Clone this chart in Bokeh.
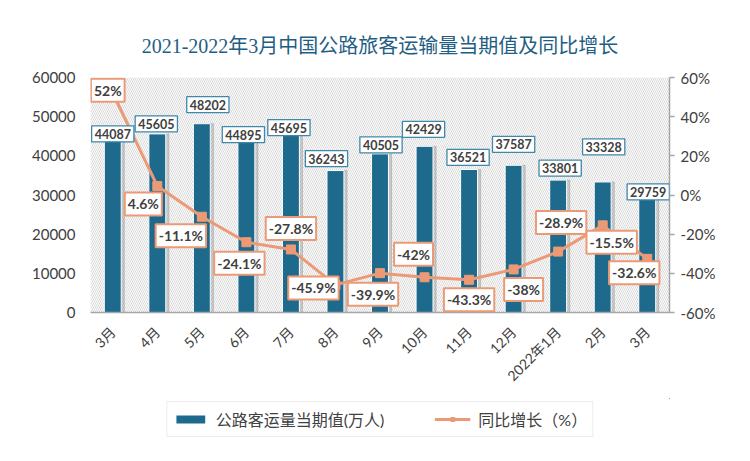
from bokeh.plotting import figure
from bokeh.layouts import column
from bokeh.models import (Range1d, LinearAxis, FixedTicker, PrintfTickFormatter,
                          Label, BoxAnnotation, Legend, LegendItem, ColumnDataSource)
from bokeh.embed import file_html
from bokeh.resources import INLINE
import math

# ---- data ----
months = ["3月", "4月", "5月", "6月", "7月", "8月", "9月", "10月", "11月", "12月",
          "2022年1月", "2月", "3月"]
passengers = [44087, 45605, 48202, 44895, 45695, 36243, 40505, 42429, 36521, 37587,
              33801, 33328, 29759]
growth = [52, 4.6, -11.1, -24.1, -27.8, -45.9, -39.9, -42, -43.3, -38, -28.9, -15.5, -32.6]

title_text = "2021-2022年3月中国公路旅客运输量当期值及同比增长"
bar_name = "公路客运量当期值(万人)"
line_name = "同比增长（%）"

# ---- label placement (screen px; +dx right, +dy down) ----
bar_lbl_dx = [0, -1, 6, -3, -2, -9, 1, -1, -1, 0, 2, 1, 1]
bar_lbl_dy = [-6, -10, -19, -2, -6, -12, -9, -17, -12, -21, -12, -35, -4]
line_lbl_dx = [-5, -14, -21, -7, 0, -22, -7, -11, 0, 10, 3, 9, -13]
line_lbl_dy = [-3, 18, 19, 21, -21, 3, 21, -23, 20, 20, -29, 17, 14]

BAR = "#1E6A8D"
LINE = "#EC9A76"
TXT = "#404040"
SANS = "Lato, 'Noto Sans CJK SC', sans-serif"

xs = list(range(len(months)))
src = ColumnDataSource(dict(x=xs, y=passengers, g=growth))

p = figure(width=742, height=398, output_backend="svg", toolbar_location=None,
           x_range=Range1d(-0.5, len(months) - 0.5), y_range=Range1d(0, 60000),
           min_border_left=90, min_border_right=73, min_border_top=77,
           min_border_bottom=86)
p.extra_y_ranges = {"pct": Range1d(-60, 60)}
p.outline_line_color = None
p.xgrid.visible = False
p.ygrid.visible = False
p.background_fill_color = "white"
p.border_fill_color = "white"

# title
p.title.text = title_text
p.title.align = "center"
p.title.text_font = "'Liberation Serif', 'Noto Sans CJK SC', serif"
p.title.text_font_size = "20px"
p.title.text_font_style = "normal"
p.title.text_color = "#1F5E84"
p.title.standoff = 42

# hatched plot area
p.add_layout(BoxAnnotation(fill_color="white", fill_alpha=0, line_color=None,
                           hatch_pattern="\\", hatch_color="#D9D9D9",
                           hatch_scale=4, hatch_weight=1, level="underlay"))

# bar shadows + bars
p.vbar(x=[x + 0.07 for x in xs], top=passengers, width=0.38, color="#9A9A9A",
       alpha=0.45)
bars = p.vbar(x="x", top="y", width=0.38, source=src, fill_color=BAR,
              line_color="white", line_width=1)

# line on right axis
ln = p.line(x="x", y="g", source=src, y_range_name="pct", line_color=LINE,
            line_width=3)
mk = p.scatter(x="x", y="g", source=src, y_range_name="pct", marker="square",
               size=9, fill_color=LINE, line_color=LINE)

# axes
p.yaxis.ticker = FixedTicker(ticks=[0, 10000, 20000, 30000, 40000, 50000, 60000])
p.yaxis.axis_line_color = None
p.yaxis.major_tick_line_color = None
p.yaxis.minor_tick_line_color = None
p.yaxis.major_label_text_font = SANS
p.yaxis.major_label_text_font_size = "15px"
p.yaxis.major_label_text_color = TXT
p.yaxis.major_label_standoff = 9

ra = LinearAxis(y_range_name="pct", ticker=FixedTicker(ticks=[-60, -40, -20, 0, 20, 40, 60]),
                formatter=PrintfTickFormatter(format="%d%%"))
ra.axis_line_color = "#A6A6A6"
ra.axis_line_width = 1.5
ra.major_tick_line_color = "#A6A6A6"
ra.major_tick_line_width = 1.5
ra.major_tick_out = 5
ra.major_tick_in = 0
ra.minor_tick_line_color = None
ra.major_label_text_font = SANS
ra.major_label_text_font_size = "15px"
ra.major_label_text_color = TXT
ra.major_label_standoff = 6
p.add_layout(ra, "right")

p.xaxis.ticker = FixedTicker(ticks=xs)
p.xaxis.major_label_overrides = {i: m for i, m in enumerate(months)}
p.xaxis.major_label_orientation = math.pi / 4
p.xaxis.axis_line_color = "#A6A6A6"
p.xaxis.axis_line_width = 1.5
p.xaxis.major_tick_line_color = None
p.xaxis.minor_tick_line_color = None
p.xaxis.major_label_text_font = SANS
p.xaxis.major_label_text_font_size = "14px"
p.xaxis.major_label_text_color = TXT
p.xaxis.major_label_standoff = 11

# data labels
for i, (x, v) in enumerate(zip(xs, passengers)):
    p.add_layout(Label(x=x, y=v, text=str(v), x_offset=bar_lbl_dx[i],
                       y_offset=-bar_lbl_dy[i], text_align="center",
                       text_baseline="middle", text_font=SANS,
                       text_font_size="12.5px", text_font_style="bold",
                       text_color=TXT, background_fill_color="white",
                       border_line_color="#3E88AA", border_line_width=1.3,
                       padding=3))
for i, (x, g) in enumerate(zip(xs, growth)):
    p.add_layout(Label(x=x, y=g, y_range_name="pct", text=f"{g:g}%",
                       x_offset=line_lbl_dx[i], y_offset=-line_lbl_dy[i],
                       text_align="center", text_baseline="middle", text_font=SANS,
                       text_font_size="14px", text_font_style="bold",
                       text_color=TXT, background_fill_color="white",
                       border_line_color=LINE, border_line_width=2, padding=3))

# legend strip below the chart; its ranges keep the series out of view,
# so only the legend itself is drawn
lf = figure(width=742, height=47, output_backend="svg", toolbar_location=None,
            x_axis_location=None, y_axis_location=None,
            min_border_left=90, min_border_right=73, min_border_top=0,
            min_border_bottom=6, x_range=Range1d(-300, -299),
            y_range=Range1d(-300, -299))
lf.extra_y_ranges = {"pct": Range1d(-300, -299)}
lf.outline_line_color = None
lf.xgrid.visible = False
lf.ygrid.visible = False
lf.border_fill_color = "white"
lf.background_fill_color = "white"
lb = lf.vbar(x="x", top="y", width=0.38, source=src, fill_color=BAR, line_color=None)
ll = lf.line(x="x", y="g", source=src, y_range_name="pct", line_color=LINE, line_width=3)
lm = lf.scatter(x="x", y="g", source=src, y_range_name="pct", marker="square", size=9,
                fill_color=LINE, line_color=LINE)
legend = Legend(items=[LegendItem(label=bar_name, renderers=[lb]),
                       LegendItem(label=line_name, renderers=[ll, lm])],
                orientation="horizontal", location="center",
                glyph_width=36, glyph_height=10, label_text_font=SANS,
                label_text_font_size="16px", label_text_color=TXT,
                border_line_color="#D9D9D9", border_line_width=1.5,
                background_fill_color="white",
                padding=5, spacing=50, label_standoff=8, margin=0)
lf.add_layout(legend, "center")

layout = column(p, lf, spacing=0)
open("out.html", "w").write(file_html(layout, INLINE))
